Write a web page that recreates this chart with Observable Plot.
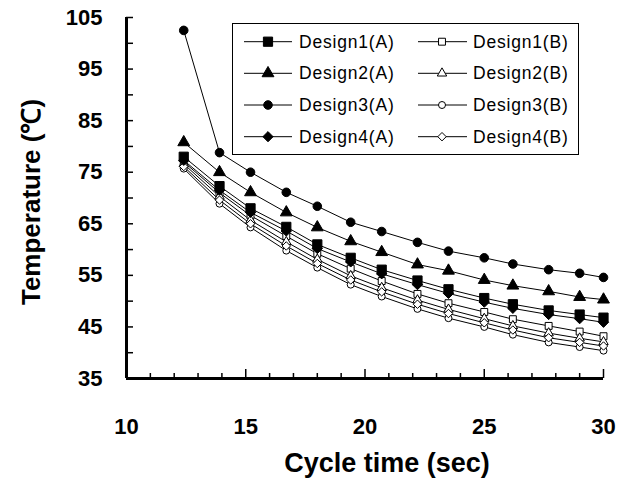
<!DOCTYPE html>
<html><head><meta charset="utf-8">
<script src="https://cdn.jsdelivr.net/npm/d3@7"></script>
<script src="https://cdn.jsdelivr.net/npm/@observablehq/plot@0.6"></script>
<style>
body{margin:0;background:#fff;}
#wrap{position:relative;width:630px;height:491px;background:#fff;}
#legend{position:absolute;left:232px;top:23px;}
</style></head><body><div id="wrap"></div>
<script>
// ---- data ----
const cycleTime = [12.4, 13.9, 15.2, 16.7, 18.0, 19.4, 20.7, 22.2, 23.5, 25.0, 26.2, 27.7, 29.0, 30.0];
const design1A = [78.0, 72.3, 68.0, 64.4, 61.0, 58.4, 56.1, 54.0, 52.3, 50.6, 49.4, 48.2, 47.4, 46.8];
const design2A = [80.8, 75.0, 71.1, 67.2, 64.3, 61.6, 59.5, 57.1, 55.9, 54.1, 53.0, 51.9, 50.8, 50.3];
const design3A = [102.5, 78.8, 75.0, 71.1, 68.4, 65.3, 63.5, 61.4, 59.7, 58.4, 57.2, 56.1, 55.4, 54.6];
const design4A = [77.3, 71.5, 67.2, 63.6, 60.2, 57.6, 55.3, 53.2, 51.5, 49.8, 48.6, 47.4, 46.6, 45.9];
const design1B = [77.0, 71.0, 66.6, 62.6, 59.2, 56.3, 53.9, 51.4, 49.6, 47.9, 46.5, 45.2, 44.1, 43.2];
const design2B = [76.6, 70.3, 65.7, 61.5, 58.1, 54.9, 52.6, 50.2, 48.4, 46.6, 45.2, 43.8, 42.8, 42.1];
const design3B = [75.7, 68.9, 64.3, 59.8, 56.5, 53.2, 50.9, 48.5, 46.7, 45.0, 43.5, 42.0, 41.1, 40.4];
const design4B = [76.1, 69.6, 65.0, 60.7, 57.3, 54.1, 51.8, 49.4, 47.6, 45.8, 44.4, 42.9, 42.0, 41.3];
const seriesNames = ["Design1(A)", "Design2(A)", "Design3(A)", "Design4(A)", "Design1(B)", "Design2(B)", "Design3(B)", "Design4(B)"];
const yTickLabels = [35, 45, 55, 65, 75, 85, 95, 105];
const yTickMarks = [40, 45, 50, 55, 60, 65, 70, 75, 80, 85, 90, 95, 100, 105];
const xTickLabels = [10, 15, 20, 25, 30];
const xMinorTicks = [11, 12, 13, 14, 16, 17, 18, 19, 21, 22, 23, 24, 26, 27, 28, 29];
const xMajorTicks = [15, 20, 25, 30];
const xTitle = "Cycle time (sec)";
const yTitle = "Temperature (\u2103)";

// ---- styles ----
const seriesValues = [design1A, design2A, design3A, design4A, design1B, design2B, design3B, design4B];
const styles = [
  {symbol: "square", r: 5.2, fill: "black"},
  {symbol: "triangle", r: 4.4, fill: "black"},
  {symbol: "circle", r: 4.3, fill: "black"},
  {symbol: "diamond2", r: 4.6, fill: "black"},
  {symbol: "square", r: 3.9, fill: "white"},
  {symbol: "triangle", r: 3.5, fill: "white"},
  {symbol: "circle", r: 3.5, fill: "white"},
  {symbol: "diamond2", r: 3.8, fill: "white"}
];
const rows = seriesNames.flatMap((name, s) => cycleTime.map((x, i) => ({x, y: seriesValues[s][i], name})));

const W = 630, H = 491, mL = 126, mR = 27, mT = 17, mB = 113;
const plotW = W - mL - mR, plotH = H - mT - mB;
const font = "'Liberation Sans', Arial, sans-serif";

const dotOrder = [4, 5, 6, 7, 3, 0, 1, 2];
const chart = Plot.plot({
  width: W, height: H,
  marginLeft: mL, marginRight: mR, marginTop: mT, marginBottom: mB,
  x: {domain: [10, 30]},
  y: {domain: [35, 105]},
  style: {fontFamily: font, background: "white", color: "black"},
  marks: [
    Plot.axisY(yTickLabels, {tickSize: 0, tickPadding: 24, fontSize: 22, fontWeight: "bold", label: null}),
    Plot.axisX(xTickLabels, {tickSize: 0, tickPadding: 40, fontSize: 22, fontWeight: "bold", label: null}),
    Plot.tickY(yTickMarks, {insetRight: plotW - 7, stroke: "black", strokeWidth: 1.5}),
    Plot.tickX(xMinorTicks, {insetTop: plotH - 5, stroke: "black", strokeWidth: 1.5}),
    Plot.tickX(xMajorTicks, {insetTop: plotH - 9, stroke: "black", strokeWidth: 1.5}),
    Plot.line(rows, {x: "x", y: "y", z: "name", stroke: "black", strokeWidth: 1}),
    ...dotOrder.map(s => Plot.dot(rows.filter(d => d.name === seriesNames[s]), {
      x: "x", y: "y", symbol: styles[s].symbol, r: styles[s].r,
      fill: styles[s].fill, stroke: "black", strokeWidth: 1
    })),
    Plot.ruleX([10], {stroke: "black", strokeWidth: 3}),
    Plot.ruleY([35], {stroke: "black", strokeWidth: 3}),
    Plot.text([xTitle], {frameAnchor: "bottom", textAnchor: "middle", dx: 22, dy: 93, fontSize: 27, fontWeight: "bold"}),
    Plot.text([yTitle], {frameAnchor: "left", textAnchor: "middle", rotate: -90, dx: -95, dy: 4, fontSize: 26, fontWeight: "bold"})
  ]
});
const wrap = document.getElementById("wrap");
wrap.appendChild(chart);

// ---- legend ----
const symbolMap = {square: d3.symbolSquare, triangle: d3.symbolTriangle, circle: d3.symbolCircle, diamond2: d3.symbolDiamond2};
const LW = 347, LH = 132;
const leg = d3.select(wrap).append("svg").attr("id", "legend").attr("width", LW).attr("height", LH);
leg.append("rect").attr("x", 0.5).attr("y", 0.5).attr("width", LW - 1).attr("height", LH - 1)
  .attr("fill", "white").attr("stroke", "black").attr("stroke-width", 1);
const rowY = [18.7, 50.3, 82, 113.7];
const cols = [{l0: 12, l1: 60, m: 36, t: 67}, {l0: 186, l1: 235, m: 210, t: 241}];
seriesNames.forEach((name, s) => {
  const c = cols[s < 4 ? 0 : 1], y = rowY[s % 4], st = styles[s];
  const g = leg.append("g");
  g.append("line").attr("x1", c.l0).attr("x2", c.l1).attr("y1", y).attr("y2", y).attr("stroke", "black").attr("stroke-width", 1);
  g.append("path").attr("d", d3.symbol(symbolMap[st.symbol], Math.PI * st.r * st.r)())
    .attr("transform", `translate(${c.m},${y})`).attr("fill", st.fill).attr("stroke", "black").attr("stroke-width", 1);
  g.append("text").attr("x", c.t).attr("y", y).attr("dy", "0.35em")
    .attr("font-family", font).attr("font-size", 17.5).attr("letter-spacing", 0.8).attr("fill", "black").text(name);
});
</script>
</body></html>
